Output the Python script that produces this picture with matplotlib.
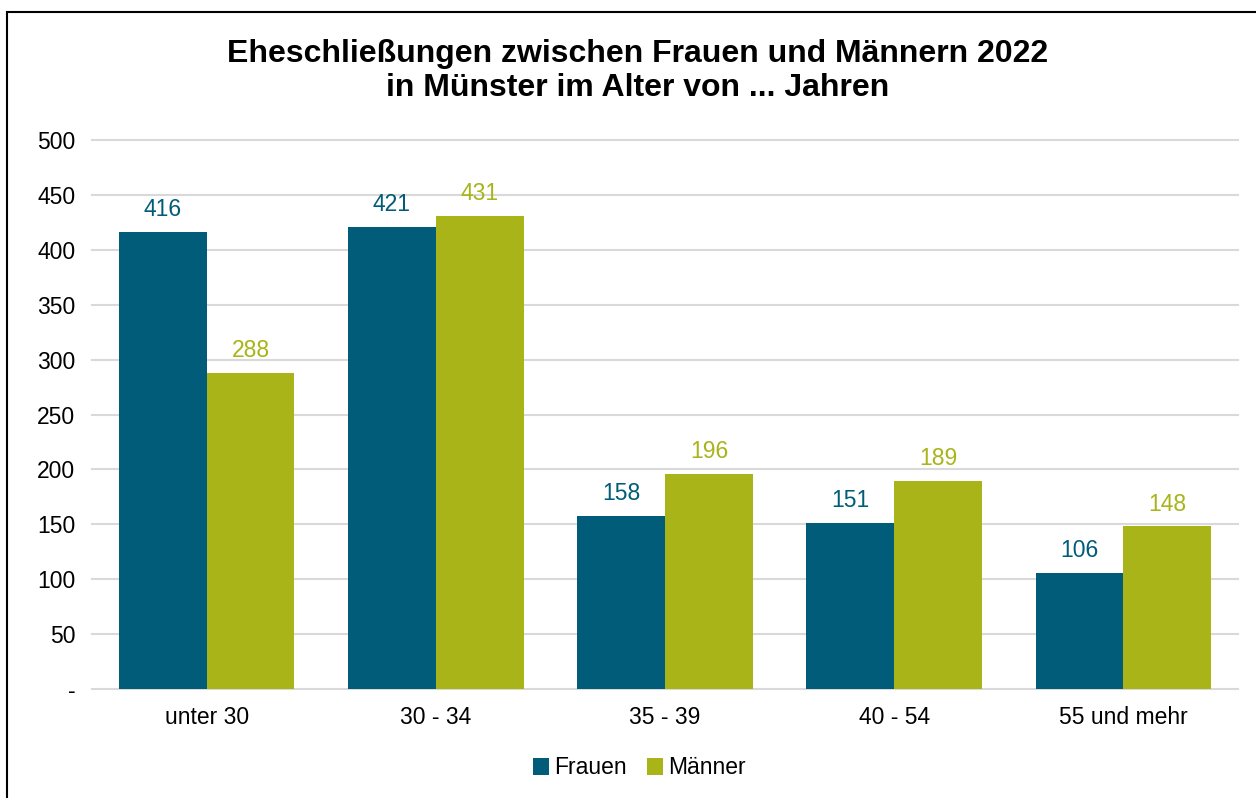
import matplotlib
matplotlib.use("Agg")
import matplotlib.pyplot as plt
import numpy as np
from matplotlib.patches import Rectangle

plt.rcParams['font.family'] = ['Liberation Sans', 'DejaVu Sans']

# data
categories = ["unter 30", "30 - 34", "35 - 39", "40 - 54", "55 und mehr"]
frauen = [416, 421, 158, 151, 106]
maenner = [288, 431, 196, 189, 148]
yticks = [0, 50, 100, 150, 200, 250, 300, 350, 400, 450, 500]
ytick_labels = ["-"] + [str(v) for v in yticks[1:]]

col_f = "#005C78"
col_m = "#A9B419"
fs = 16.5

fig = plt.figure(figsize=(12.56, 7.98), dpi=100)
ax = fig.add_axes([92 / 1256, 1 - 689 / 798, (1238 - 92) / 1256, (689 - 140) / 798])

x = np.arange(len(categories))
w = 0.383
b1 = ax.bar(x - w / 2, frauen, w, color=col_f, label="Frauen", zorder=3)
b2 = ax.bar(x + w / 2, maenner, w, color=col_m, label="Männer", zorder=3)

# value labels above the bars
for bars, vals, c in [(b1, frauen, col_f), (b2, maenner, col_m)]:
    for r, v in zip(bars, vals):
        ax.text(r.get_x() + r.get_width() / 2, v + 10, str(v), ha="center", va="bottom",
                fontsize=fs, color=c)

ax.set_xlim(-0.5, len(categories) - 0.5)
ax.set_ylim(0, 500)
ax.set_yticks(yticks)
ax.set_yticklabels(ytick_labels)
ax.set_xticks(x)
ax.set_xticklabels(categories)
ax.tick_params(axis="both", length=0, labelsize=fs, colors="black")
ax.tick_params(axis="y", pad=12)
ax.tick_params(axis="x", pad=12)
ax.grid(axis="y", color="#D9D9D9", linewidth=1.5, zorder=0)
for gl in ax.get_ygridlines():
    gl.set_clip_on(False)
for s in ax.spines.values():
    s.set_visible(False)

fig.text(638 / 1256, 1 - 71 / 798, "Eheschließungen zwischen Frauen und Männern 2022\nin Münster im Alter von ... Jahren",
         ha="center", va="center", fontsize=23, fontweight="bold", linespacing=1.17)

fig.legend(handles=[b1, b2], loc="center", bbox_to_anchor=(0.509, 1 - 768 / 798), ncol=2,
           frameon=False, fontsize=fs, handlelength=0.7, handleheight=0.7,
           handletextpad=0.2, columnspacing=0.9)

# outer frame, open at the bottom and right like the source
fig.patches.append(Rectangle((7 / 1256, -0.05), 1.1, 1 - 12 / 798 + 0.05,
                             transform=fig.transFigure, fill=False, edgecolor="black",
                             linewidth=1.5))

fig.savefig("out.png", dpi=100)
